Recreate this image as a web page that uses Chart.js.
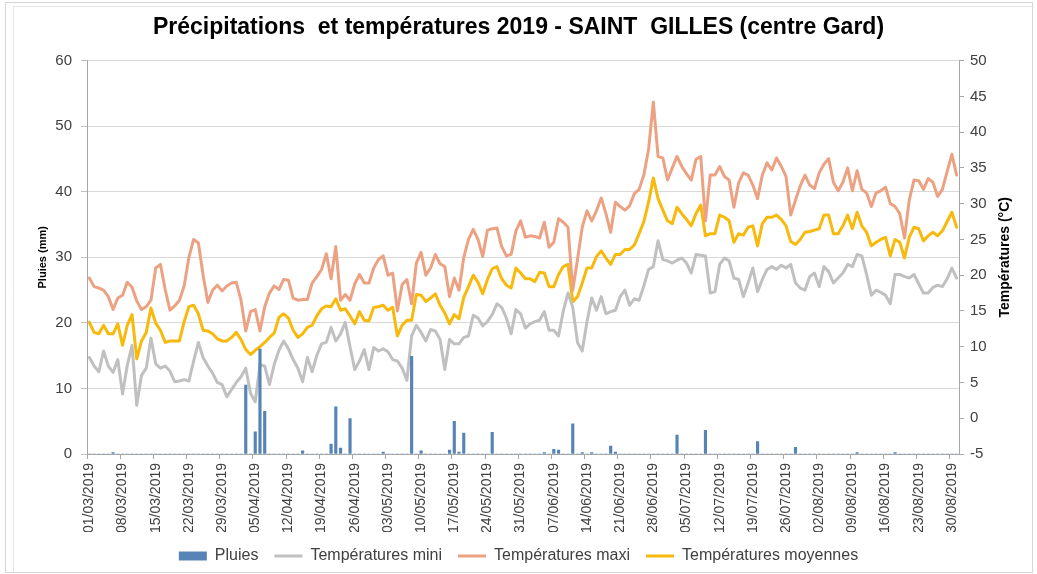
<!DOCTYPE html>
<html>
<head>
<meta charset="utf-8">
<script src="https://cdn.jsdelivr.net/npm/chart.js@4.4.1/dist/chart.umd.min.js"></script>
<style>
html,body{margin:0;padding:0;background:#fff;}
#wrap{width:1037px;height:574px;position:relative;}
</style>
</head>
<body>
<div id="wrap"><canvas id="c" width="1037" height="574"></canvas></div>
<script>
// ---- tick labels shown on the date axis ----
const tickLabels = [
  '01/03/2019','08/03/2019','15/03/2019','22/03/2019','29/03/2019','05/04/2019','12/04/2019',
  '19/04/2019','26/04/2019','03/05/2019','10/05/2019','17/05/2019','24/05/2019','31/05/2019',
  '07/06/2019','14/06/2019','21/06/2019','28/06/2019','05/07/2019','12/07/2019','19/07/2019',
  '26/07/2019','02/08/2019','09/08/2019','16/08/2019','23/08/2019','30/08/2019'
];

// ---- categories: one per day, 01/03/2019 .. 31/08/2019 ----
const days = [];
for (let i = 0; i < 184; i++) {
  const d = new Date(Date.UTC(2019, 2, 1 + i));
  days.push(String(d.getUTCDate()).padStart(2, '0') + '/' + String(d.getUTCMonth() + 1).padStart(2, '0') + '/' + d.getUTCFullYear());
}

// ---- Pluies (mm) ----
const pluies = [
  0,0,0,0,0,0.2,0,0,0,0,
  0,0,0,0,0,0,0,0,0,0,
  0,0,0,0,0,0,0,0,0,0,
  0,0,0,10.5,0,3.4,16.0,6.5,0,0,
  0,0,0,0,0,0.5,0,0,0,0,
  0,1.5,7.2,0.9,0,5.4,0,0,0,0,
  0,0,0.3,0,0,0,0,0,14.9,0,
  0.5,0,0,0,0,0,0.6,5.0,0.3,3.2,
  0,0,0,0,0,3.3,0,0,0,0,
  0,0,0,0,0,0,0.2,0,0.7,0.6,
  0,0,4.6,0,0.2,0,0.2,0,0,0,
  1.2,0.3,0,0,0,0,0,0,0,0,
  0,0,0,0,2.9,0,0,0,0,0,
  3.6,0,0,0,0,0,0,0,0,0,
  0,1.9,0,0,0,0,0,0,0,1.0,
  0,0,0,0,0,0,0,0,0,0,
  0,0,0.2,0,0,0,0,0,0,0,
  0.2,0,0,0,0,0,0,0,0,0,
  0,0,0,0
];

// ---- Températures mini (°C) ----
const tempMini = [
  8.5, 7.3, 6.5, 9.4, 7.3, 6.4, 8.2, 3.4, 7.4, 10.2,
  1.8, 6.0, 7.0, 11.2, 7.6, 7.0, 7.3, 6.6, 5.1, 5.2, 5.4, 5.2, 8.0, 10.6, 8.5, 7.3, 6.3, 5.0, 4.7, 3.0,
  4.0, 5.0, 5.8, 7.0, 3.5, 2.3, 7.5, 7.3, 4.7, 7.5, 9.5, 10.8, 9.7, 8.2, 7.0, 5.1, 8.5, 6.5, 8.8, 10.4, 10.6, 12.7, 10.8, 11.8, 13.4, 10.0, 6.8, 8.0, 9.6, 6.8,
  9.9, 9.4, 9.7, 9.3, 8.2, 8.0, 7.0, 5.3, 11.5,
  13.0, 12.0, 10.8, 12.4, 12.2, 11.0, 6.8, 11.0, 10.4, 10.4, 11.3, 11.5, 14.4, 14.0, 12.9, 13.5, 14.5, 16.0, 15.5, 14.0,
  11.8, 15.2, 14.6, 12.6, 13.2, 13.5, 13.7, 14.9, 12.3, 12.3, 11.5, 15.0, 17.5, 15.5, 10.6, 9.4, 13.5, 16.8, 15.1, 17.0, 14.6, 14.9, 15.1, 17.0, 17.9, 15.8, 16.7, 16.5, 18.5, 20.8,
  21.2, 24.8, 22.2, 22.0, 21.7, 22.1, 22.4, 21.7, 20.3, 22.9, 22.8, 22.7, 17.5, 17.7, 21.5, 22.4, 22.0, 19.6, 19.4, 17.0, 18.9, 21.0, 17.7, 19.4, 20.8, 21.2, 20.8,
  21.4, 21.0,
  21.5, 18.9, 18.2, 17.9, 19.8, 20.3, 18.4, 21.2, 20.5, 18.9, 19.6, 20.3, 21.5, 21.2, 22.9, 22.7, 20.1, 17.2, 17.9, 17.6, 17.2, 16.0, 20.1, 20.1, 19.8, 19.6, 20.1, 18.8, 17.5, 17.5, 18.3, 18.6, 18.4, 19.5, 21.0, 19.6
];

// ---- Températures maxi (°C) ----
const tempMaxi = [
  19.6, 18.4, 18.2, 17.9, 17.0, 15.2, 16.8, 17.2, 19.0, 18.3,
  16.4, 15.2, 15.6, 16.5, 21.0, 21.5, 18.0, 15.1, 15.7, 16.5, 18.5, 22.5, 25.0, 24.5, 20.0, 16.2, 17.9, 18.6, 17.8, 18.5,
  18.9, 19.0, 16.5, 12.2, 14.9, 15.2, 12.2, 15.6, 17.5, 18.5, 18.0, 19.4, 19.3, 16.8, 16.5, 16.6, 16.6, 18.9, 19.8, 20.8, 23.0, 19.5, 24.0, 16.5, 17.3, 16.5, 18.8, 20.1, 18.9, 18.9,
  21.0, 22.2, 22.7, 20.0, 20.3, 15.0, 18.7, 19.4, 16.0,
  21.7, 23.2, 20.0, 21.0, 22.9, 21.6, 21.2, 17.0, 19.6, 17.9, 22.5, 25.0, 26.4, 25.0, 22.6, 26.3, 26.5, 26.6, 24.0, 22.7,
  22.9, 26.2, 27.6, 25.3, 25.5, 25.4, 25.2, 27.4, 23.9, 24.6, 27.9, 27.4, 26.7, 17.9, 22.2, 26.7, 29.0, 27.6, 29.0, 30.8, 28.6, 26.0, 30.2, 29.6, 29.1, 29.7, 31.4, 32.0, 34.0, 37.6,
  44.2, 36.6, 36.4, 33.3, 35.0, 36.6, 35.2, 34.2, 33.3, 36.2, 36.6, 27.6, 34.0, 34.0, 35.2, 33.8, 33.3, 29.5, 32.9, 34.3, 34.0, 32.6, 30.7, 34.0, 35.7, 34.7, 36.4,
  35.2, 33.8,
  28.4, 30.5, 32.5, 34.0, 32.6, 32.1, 34.3, 35.5, 36.3, 33.0, 31.8, 33.0, 35.0, 31.8, 34.6, 32.0, 31.5, 29.6, 31.5, 31.8, 32.3, 30.0, 29.6, 28.6, 25.2, 30.5, 33.3, 33.2, 32.0, 33.5, 33.0, 31.0, 32.0, 34.5, 36.9, 34.0
];

// ---- Températures moyennes (°C) ----
const tempMoy = [
  13.4, 12.0, 11.8, 13.0, 11.8, 11.8, 13.2, 10.2, 13.0, 14.5,
  8.3, 10.8, 12.0, 15.4, 13.3, 12.3, 10.6, 10.8, 10.8, 10.8, 13.5, 15.6, 15.8, 14.6, 12.3, 12.2, 11.8, 11.1, 10.8, 10.8,
  11.3, 12.0, 11.0, 9.6, 8.9, 9.5, 10.0, 10.6, 11.3, 11.9, 14.1, 14.6, 14.0, 12.3, 11.3, 11.8, 12.7, 13.0, 14.3, 15.3, 15.7, 15.6, 16.7, 15.1, 15.3, 14.3, 13.2, 14.9, 13.7, 13.6,
  15.5, 15.6, 15.8, 15.1, 15.5, 11.5, 13.0, 13.7, 13.7,
  17.3, 17.2, 16.3, 16.8, 17.4, 15.8, 14.7, 13.2, 14.5, 13.9, 16.9, 18.4, 20.0, 19.0, 17.4, 19.4, 20.9, 21.2, 19.5, 18.6,
  18.2, 21.0, 20.3, 19.5, 19.5, 19.1, 20.4, 20.3, 18.4, 18.4, 20.1, 21.2, 21.5, 16.3, 17.0, 18.9, 21.0, 21.0, 22.6, 23.4, 22.4, 21.5, 22.9, 22.9, 23.6, 23.6, 24.2, 25.8, 27.5, 30.2,
  33.6, 30.7, 29.1, 27.6, 27.2, 29.5, 28.6, 27.8, 26.9, 28.6, 29.8, 25.5, 25.8, 25.8, 28.4, 28.1, 27.6, 24.6, 25.8, 25.6, 26.7, 26.9, 24.1, 27.2, 28.1, 28.1, 28.4,
  27.8, 26.9,
  24.7, 24.3, 25.0, 26.0, 26.1, 26.3, 26.5, 28.4, 28.4, 25.8, 25.8, 26.9, 28.4, 26.5, 28.8, 26.9, 26.0, 24.1, 24.6, 25.0, 25.3, 22.7, 25.0, 24.6, 22.4, 25.3, 26.7, 26.5, 24.8, 25.5, 26.0, 25.5, 26.2, 27.5, 28.8, 26.7
];

const COL_RAIN = '#5684B6';
const COL_MINI = '#C0C0C0';
const COL_MAXI = '#ECA282';
const COL_MOY  = '#F7B90C';
const FONT = '"Liberation Sans", Arial, sans-serif';

Chart.defaults.font.family = FONT;
Chart.defaults.color = '#404040';

const decor = {
  id: 'decor',
  beforeDraw(chart) {
    const c = chart.ctx;
    c.save();
    c.fillStyle = '#fff';
    c.fillRect(0, 0, chart.width, chart.height);
    c.strokeStyle = '#D6D6D6';
    c.lineWidth = 1;
    c.strokeRect(5.5, 2.5, 1027, 570);
    c.strokeStyle = '#E4E4E4';
    c.beginPath();
    c.moveTo(13.5, 572); c.lineTo(13.5, 6.5); c.lineTo(1032, 6.5);
    c.stroke();
    c.restore();
  },
  afterDraw(chart) {
    const s = chart.scales.y1;
    const a = chart.chartArea;
    const c = chart.ctx;
    c.save();
    c.translate(s.right - 9 - 8.4, (a.top + a.bottom) / 2);
    c.rotate(-Math.PI / 2);
    c.font = 'bold 14px ' + FONT;
    c.fillStyle = '#000';
    c.textAlign = 'center';
    c.textBaseline = 'middle';
    c.fillText('Températures (°C)', 0, 0);
    c.restore();
  }
};

new Chart(document.getElementById('c'), {
  type: 'bar',
  data: {
    labels: days,
    datasets: [
      { type: 'bar', label: 'Pluies', data: pluies, yAxisID: 'y',
        backgroundColor: COL_RAIN, borderWidth: 0, barThickness: 2.5 },
      { type: 'line', label: 'Températures mini', data: tempMini, yAxisID: 'y1',
        borderColor: COL_MINI, backgroundColor: COL_MINI, borderWidth: 3, pointRadius: 0,
        tension: 0, borderJoinStyle: 'round', borderCapStyle: 'round', fill: false },
      { type: 'line', label: 'Températures maxi', data: tempMaxi, yAxisID: 'y1',
        borderColor: COL_MAXI, backgroundColor: COL_MAXI, borderWidth: 3, pointRadius: 0,
        tension: 0, borderJoinStyle: 'round', borderCapStyle: 'round', fill: false },
      { type: 'line', label: 'Températures moyennes', data: tempMoy, yAxisID: 'y1',
        borderColor: COL_MOY, backgroundColor: COL_MOY, borderWidth: 3, pointRadius: 0,
        tension: 0, borderJoinStyle: 'round', borderCapStyle: 'round', fill: false }
    ]
  },
  options: {
    responsive: false,
    devicePixelRatio: 1,
    animation: false,
    events: [],
    layout: { padding: { left: 14, right: 14, top: 0, bottom: 0 } },
    plugins: {
      title: {
        display: true,
        text: 'Précipitations  et températures 2019 - SAINT  GILLES (centre Gard)',
        color: '#000',
        font: { size: 23, weight: 'bold' },
        padding: { top: 14, bottom: 19 }
      },
      legend: {
        position: 'bottom',
        labels: {
          usePointStyle: true,
          pointStyleWidth: 28,
          boxHeight: 9,
          padding: 16,
          color: '#404040',
          font: { size: 16 },
          generateLabels(chart) {
            const items = Chart.defaults.plugins.legend.labels.generateLabels(chart);
            items.forEach((it, i) => {
              it.pointStyle = i === 0 ? 'rect' : 'line';
              if (i === 0) { it.lineWidth = 0; it.fillStyle = COL_RAIN; }
              else { it.lineWidth = 3; }
            });
            return items;
          }
        }
      },
      tooltip: { enabled: false }
    },
    scales: {
      x: {
        offset: true,
        grid: {
          offset: true,
          drawOnChartArea: false,
          drawTicks: true,
          tickLength: 5,
          color: ctx => (ctx.index % 7 === 0 ? '#A6A6A6' : 'rgba(0,0,0,0)')
        },
        border: { color: '#A6A6A6' },
        ticks: {
          autoSkip: false,
          maxRotation: 90,
          minRotation: 90,
          padding: 4,
          color: '#404040',
          font: { size: 14 },
          callback(v) {
            const lbl = this.getLabelForValue(v);
            return tickLabels.includes(lbl) ? lbl : '';
          }
        },
        afterFit(s) { s.height = 78; }
      },
      y: {
        position: 'left',
        min: 0, max: 60,
        ticks: { stepSize: 10, padding: 9, color: '#404040', font: { size: 15 } },
        grid: { color: '#D9D9D9', tickColor: '#BFBFBF', tickLength: 6 },
        border: { color: '#A6A6A6' },
        title: { display: true, text: 'Pluies (mm)', color: '#000',
                 font: { size: 11, weight: 'bold' }, padding: { top: 22, bottom: 0 } },
        afterFit(s) { s.width = 73; }
      },
      y1: {
        position: 'right',
        min: -5, max: 50,
        ticks: { stepSize: 5, padding: 6, color: '#404040', font: { size: 15 } },
        grid: { drawOnChartArea: false, color: '#A6A6A6', tickLength: 5 },
        border: { color: '#A6A6A6' },
        afterFit(s) { s.width = 64; }
      }
    }
  },
  plugins: [decor]
});
</script>
</body>
</html>
